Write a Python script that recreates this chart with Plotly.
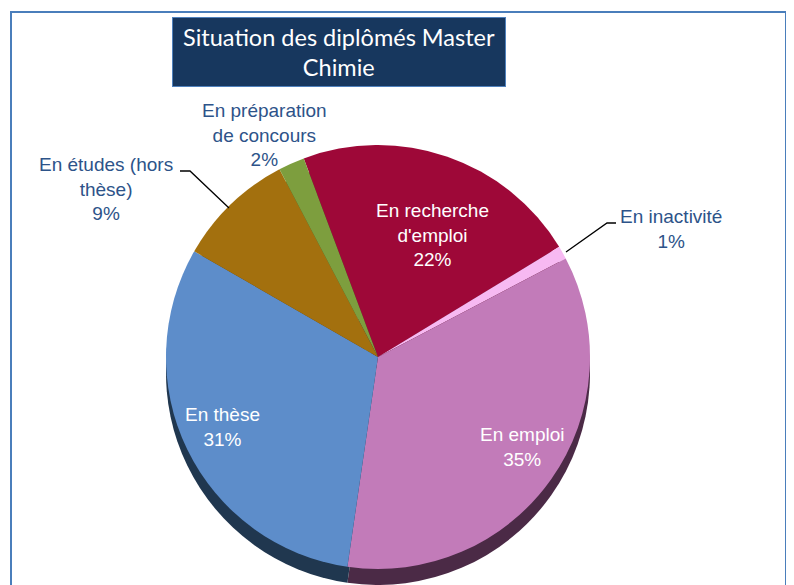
import plotly.graph_objects as go

# ---- data ----
categories = ["En recherche d'emploi", "En inactivité", "En emploi", "En thèse",
              "En études (hors thèse)", "En préparation de concours"]
display_labels = ["En recherche<br>d'emploi", "En inactivité", "En emploi", "En thèse",
                  "En études (hors<br>thèse)", "En préparation<br>de concours"]
values = [22, 1, 35, 31, 9, 2]
inside = [True, False, True, True, False, False]
colors = ["#9E0838", "#F7B9F2", "#C27BB9", "#5D8DCA", "#A3700E", "#7D9E3E"]
side_colors = ["#55061F", "#8E6A8B", "#4B2A46", "#20374F", "#5C400A", "#475B24"]
title_text = "Situation des diplômés Master<br>Chimie"

OFF = 8  # page body margin
W, H = 794 - OFF, 585 - OFF
FONT = "Liberation Sans Narrow, Arial Narrow, Liberation Sans, Arial, sans-serif"
LABEL_COLOR = "#2D5389"

cx, cy, r, depth = 378, 357, 212, 16


def px_x(x):
    return (x - OFF) / W


def px_y(y):
    return min(1.0, max(0.0, 1 - (y - OFF) / H))


total = sum(values)

fig = go.Figure()

# side (depth) of the pie
fig.add_trace(go.Pie(
    labels=categories, values=values, sort=False, direction="clockwise",
    rotation=-20.5, marker=dict(colors=side_colors, line=dict(width=0)),
    textinfo="none", hoverinfo="skip", showlegend=False,
    domain=dict(x=[px_x(cx - r), px_x(cx + r)],
                y=[px_y(cy + depth + r), px_y(cy + depth - r)]),
))

# top face
fig.add_trace(go.Pie(
    labels=categories, values=values, sort=False, direction="clockwise",
    rotation=-20.5, marker=dict(colors=colors, line=dict(width=0)),
    textinfo="none", showlegend=False,
    domain=dict(x=[px_x(cx - r), px_x(cx + r)],
                y=[px_y(cy + r), px_y(cy - r)]),
))

# data labels (placed as in the original chart)
label_pos = {0: (432, 235), 2: (522, 447), 3: (222, 427),
             4: (106, 189), 5: (264, 135), 1: (671, 229)}
for i, (x, y) in label_pos.items():
    fig.add_annotation(
        x=px_x(x), y=px_y(y), xref="paper", yref="paper",
        text=f"{display_labels[i]}<br>{round(values[i] / total * 100)}%",
        showarrow=False,
        font=dict(family=FONT, size=19, color="white" if inside[i] else LABEL_COLOR),
        align="center", xanchor="center", yanchor="middle",
    )

# title box
fig.add_annotation(
    x=px_x(339), y=px_y(52), xref="paper", yref="paper",
    text=title_text, showarrow=False,
    font=dict(family="Lato, Open Sans, sans-serif", size=23.5, color="white"),
    bgcolor="#17375E", bordercolor="#4F81BD", borderwidth=1, borderpad=3,
    width=326, height=62, align="center", xanchor="center", yanchor="middle",
)

shapes = [
    # frame
    dict(type="rect", xref="paper", yref="paper",
         x0=px_x(11), x1=px_x(786), y0=-0.05, y1=px_y(12),
         line=dict(color="#4A7EBB", width=2), fillcolor="rgba(0,0,0,0)", layer="below"),
    # leader lines
    dict(type="path", xref="paper", yref="paper",
         path=f"M {px_x(180)} {px_y(171)} L {px_x(190)} {px_y(171)} L {px_x(229)} {px_y(208)}",
         line=dict(color="black", width=1.3)),
    dict(type="path", xref="paper", yref="paper",
         path=f"M {px_x(616)} {px_y(223)} L {px_x(607)} {px_y(223)} L {px_x(566)} {px_y(252)}",
         line=dict(color="black", width=1.3)),
]

fig.update_layout(
    width=W, height=H, margin=dict(l=0, r=0, t=0, b=0),
    paper_bgcolor="white", plot_bgcolor="white", shapes=shapes,
)

fig.write_html("out.html")
